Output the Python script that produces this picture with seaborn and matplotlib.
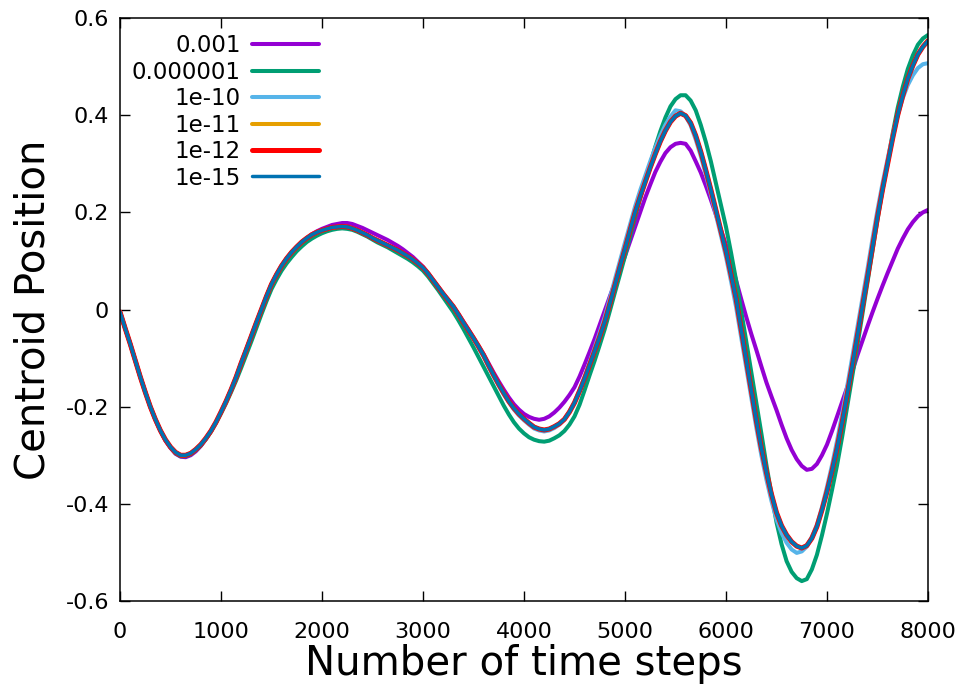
import numpy as np
import pandas as pd
import matplotlib
matplotlib.use("Agg")
import matplotlib.pyplot as plt
import seaborn as sns

# ---------------- data ----------------
steps = list(range(0, 8001, 50))

series_labels = ["0.001", "0.000001", "1e-10", "1e-11", "1e-12", "1e-15"]

y_0_001 = [-0.005, -0.038, -0.070, -0.104, -0.138, -0.170, -0.200, -0.227, -0.250, -0.270,
           -0.285, -0.297, -0.303, -0.304, -0.300, -0.292, -0.281, -0.267, -0.251, -0.232,
           -0.211, -0.189, -0.165, -0.139, -0.110, -0.082, -0.055, -0.027, 0.000, 0.027,
           0.052, 0.072, 0.090, 0.105, 0.118, 0.129, 0.139, 0.147, 0.155, 0.161,
           0.166, 0.170, 0.174, 0.176, 0.178, 0.178, 0.176, 0.172, 0.168, 0.163,
           0.158, 0.153, 0.148, 0.143, 0.137, 0.131, 0.124, 0.116, 0.108, 0.098,
           0.088, 0.075, 0.061, 0.047, 0.033, 0.020, 0.006, -0.009, -0.025, -0.041,
           -0.058, -0.075, -0.092, -0.111, -0.130, -0.148, -0.165, -0.181, -0.195, -0.206,
           -0.215, -0.221, -0.225, -0.227, -0.225, -0.220, -0.212, -0.202, -0.190, -0.176,
           -0.160, -0.138, -0.113, -0.087, -0.060, -0.031, -0.002, 0.027, 0.055, 0.082,
           0.110, 0.140, 0.170, 0.200, 0.230, 0.257, 0.283, 0.304, 0.322, 0.334,
           0.341, 0.343, 0.341, 0.327, 0.305, 0.282, 0.255, 0.226, 0.195, 0.164,
           0.133, 0.097, 0.060, 0.022, -0.015, -0.050, -0.083, -0.117, -0.150, -0.179,
           -0.207, -0.237, -0.265, -0.289, -0.308, -0.322, -0.330, -0.328, -0.318, -0.300,
           -0.278, -0.250, -0.220, -0.190, -0.160, -0.128, -0.095, -0.065, -0.035, -0.006,
           0.022, 0.049, 0.075, 0.100, 0.125, 0.146, 0.165, 0.180, 0.192, 0.200,
           0.205]

y_1e_6 = [-0.005, -0.038, -0.070, -0.104, -0.138, -0.170, -0.200, -0.226, -0.249, -0.269,
          -0.284, -0.296, -0.302, -0.302, -0.298, -0.290, -0.280, -0.267, -0.252, -0.234,
          -0.214, -0.193, -0.170, -0.146, -0.120, -0.093, -0.066, -0.038, -0.010, 0.017,
          0.042, 0.062, 0.080, 0.095, 0.108, 0.120, 0.130, 0.139, 0.146, 0.152,
          0.157, 0.161, 0.164, 0.166, 0.167, 0.166, 0.164, 0.160, 0.155, 0.150,
          0.144, 0.138, 0.133, 0.128, 0.122, 0.116, 0.110, 0.104, 0.097, 0.089,
          0.080, 0.068, 0.054, 0.040, 0.025, 0.010, -0.005, -0.022, -0.040, -0.059,
          -0.078, -0.098, -0.118, -0.138, -0.158, -0.178, -0.198, -0.216, -0.232, -0.245,
          -0.255, -0.263, -0.268, -0.271, -0.272, -0.270, -0.265, -0.259, -0.250, -0.237,
          -0.220, -0.196, -0.166, -0.135, -0.105, -0.073, -0.040, -0.003, 0.035, 0.072,
          0.110, 0.150, 0.190, 0.228, 0.265, 0.300, 0.335, 0.367, 0.395, 0.418,
          0.433, 0.441, 0.441, 0.430, 0.410, 0.380, 0.345, 0.305, 0.260, 0.215,
          0.170, 0.117, 0.060, -0.002, -0.065, -0.128, -0.190, -0.255, -0.320, -0.380,
          -0.438, -0.483, -0.518, -0.540, -0.553, -0.559, -0.555, -0.535, -0.505, -0.465,
          -0.420, -0.371, -0.320, -0.262, -0.200, -0.138, -0.075, -0.010, 0.055, 0.120,
          0.185, 0.247, 0.305, 0.362, 0.415, 0.458, 0.495, 0.523, 0.545, 0.558,
          0.565]

y_1e_10 = [-0.005, -0.038, -0.070, -0.104, -0.138, -0.170, -0.200, -0.226, -0.249, -0.268,
           -0.283, -0.294, -0.300, -0.300, -0.296, -0.288, -0.278, -0.265, -0.250, -0.232,
           -0.211, -0.189, -0.165, -0.139, -0.110, -0.083, -0.055, -0.027, 0.000, 0.027,
           0.052, 0.072, 0.090, 0.105, 0.118, 0.129, 0.139, 0.147, 0.154, 0.159,
           0.163, 0.166, 0.169, 0.170, 0.171, 0.170, 0.167, 0.163, 0.158, 0.153,
           0.147, 0.142, 0.137, 0.132, 0.127, 0.122, 0.116, 0.110, 0.103, 0.095,
           0.086, 0.074, 0.060, 0.046, 0.032, 0.019, 0.006, -0.011, -0.027, -0.044,
           -0.061, -0.079, -0.097, -0.118, -0.138, -0.157, -0.175, -0.191, -0.206, -0.218,
           -0.228, -0.237, -0.245, -0.249, -0.251, -0.249, -0.244, -0.237, -0.226, -0.210,
           -0.190, -0.165, -0.138, -0.108, -0.078, -0.047, -0.015, 0.023, 0.062, 0.100,
           0.138, 0.175, 0.212, 0.245, 0.275, 0.305, 0.333, 0.358, 0.380, 0.397,
           0.410, 0.408, 0.398, 0.379, 0.350, 0.316, 0.278, 0.237, 0.195, 0.152,
           0.108, 0.058, 0.005, -0.057, -0.120, -0.182, -0.243, -0.300, -0.350, -0.394,
           -0.432, -0.460, -0.480, -0.494, -0.501, -0.498, -0.488, -0.468, -0.443, -0.407,
           -0.365, -0.320, -0.270, -0.215, -0.158, -0.098, -0.038, 0.022, 0.082, 0.145,
           0.205, 0.260, 0.310, 0.358, 0.400, 0.435, 0.462, 0.482, 0.497, 0.505,
           0.507]

# 1e-11, 1e-12 and 1e-15 coincide on the picture
y_1e_15 = [-0.005, -0.038, -0.070, -0.104, -0.138, -0.170, -0.200, -0.226, -0.249, -0.268,
           -0.283, -0.294, -0.300, -0.300, -0.296, -0.288, -0.278, -0.265, -0.250, -0.232,
           -0.211, -0.189, -0.165, -0.139, -0.110, -0.083, -0.055, -0.027, 0.000, 0.027,
           0.052, 0.072, 0.090, 0.105, 0.118, 0.129, 0.139, 0.147, 0.154, 0.159,
           0.163, 0.166, 0.169, 0.170, 0.171, 0.170, 0.167, 0.163, 0.158, 0.153,
           0.147, 0.142, 0.137, 0.132, 0.127, 0.122, 0.116, 0.110, 0.103, 0.095,
           0.086, 0.074, 0.060, 0.046, 0.032, 0.019, 0.006, -0.010, -0.027, -0.043,
           -0.059, -0.076, -0.094, -0.115, -0.135, -0.154, -0.172, -0.189, -0.203, -0.215,
           -0.225, -0.234, -0.242, -0.246, -0.248, -0.246, -0.241, -0.235, -0.226, -0.211,
           -0.192, -0.168, -0.142, -0.114, -0.085, -0.056, -0.025, 0.012, 0.050, 0.088,
           0.125, 0.163, 0.200, 0.232, 0.262, 0.292, 0.320, 0.346, 0.368, 0.386,
           0.398, 0.404, 0.399, 0.384, 0.358, 0.325, 0.287, 0.247, 0.205, 0.162,
           0.120, 0.072, 0.022, -0.040, -0.103, -0.166, -0.228, -0.285, -0.335, -0.380,
           -0.418, -0.445, -0.464, -0.478, -0.487, -0.491, -0.486, -0.471, -0.447, -0.413,
           -0.375, -0.332, -0.285, -0.232, -0.175, -0.116, -0.055, 0.005, 0.065, 0.128,
           0.190, 0.247, 0.300, 0.352, 0.400, 0.440, 0.475, 0.502, 0.525, 0.541,
           0.553]
y_1e_11 = list(y_1e_15)
y_1e_12 = list(y_1e_15)

x_ticks = [0, 1000, 2000, 3000, 4000, 5000, 6000, 7000, 8000]
x_tick_labels = ["0", "1000", "2000", "3000", "4000", "5000", "6000", "7000", "8000"]
y_ticks = [-0.6, -0.4, -0.2, 0.0, 0.2, 0.4, 0.6]
y_tick_labels = ["-0.6", "-0.4", "-0.2", "0", "0.2", "0.4", "0.6"]

# ---------------- styling ----------------
colors = ["#9400d3", "#009e73", "#56b4e9", "#e69f00", "#ff0000", "#0072b2"]
widths = [2.9, 2.9, 2.9, 2.9, 3.6, 2.5]

frames = []
for lab, ys in zip(series_labels, [y_0_001, y_1e_6, y_1e_10, y_1e_11, y_1e_12, y_1e_15]):
    frames.append(pd.DataFrame({"step": steps, "pos": ys, "series": lab}))
df = pd.concat(frames, ignore_index=True)

sns.set_theme(style="white")
plt.rcParams["font.family"] = ["DejaVu Sans"]
plt.rcParams["axes.unicode_minus"] = False
plt.rcParams["text.color"] = "black"

fig = plt.figure(figsize=(9.6, 6.84), dpi=100)
ax = fig.add_axes([120 / 960, 1 - 601 / 684, 808 / 960, 583 / 684])

for lab, col, lw in zip(series_labels, colors, widths):
    sub = df[df["series"] == lab]
    sns.lineplot(data=sub, x="step", y="pos", color=col, linewidth=lw,
                 label=lab, ax=ax, estimator=None, sort=False, errorbar=None)

ax.set_xlim(0, 8000)
ax.set_ylim(-0.6, 0.6)
ax.set_xticks(x_ticks)
ax.set_xticklabels(x_tick_labels)
ax.set_yticks(y_ticks)
ax.set_yticklabels(y_tick_labels)

for sp in ax.spines.values():
    sp.set_visible(True)
    sp.set_color("black")
    sp.set_linewidth(1.1)

ax.tick_params(axis="both", which="major", direction="in", length=7, width=1.0,
               color="black", labelsize=16, labelcolor="black",
               top=True, right=True, bottom=True, left=True)
ax.tick_params(axis="x", pad=15)
ax.tick_params(axis="y", pad=8)

ax.set_xlabel("Number of time steps", fontsize=29, color="black")
ax.set_ylabel("Centroid Position", fontsize=29, color="black")
ax.xaxis.set_label_coords(0.5, -0.073)
ax.yaxis.set_label_coords(-0.082, 0.5)

leg = ax.legend(loc="upper right", bbox_to_anchor=(0.246, 0.972), frameon=False,
                markerfirst=False, fontsize=16.5, handlelength=2.9, handletextpad=0.5,
                labelspacing=0.15, borderaxespad=0.0, borderpad=0.0, labelcolor="black")

ax.grid(False)
fig.savefig("out.png", dpi=100, facecolor="white")
